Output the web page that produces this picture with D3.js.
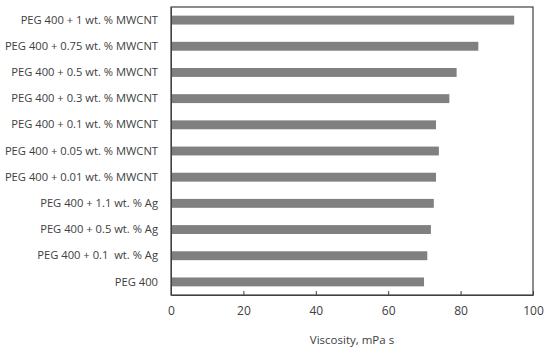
<!DOCTYPE html>
<html><head><meta charset="utf-8">
<script src="https://cdn.jsdelivr.net/npm/d3@7"></script>
<style>body{margin:0;background:#fff}svg{display:block;overflow:visible}</style>
</head><body>
<svg id="c" width="550" height="350" viewBox="0 0 550 350"></svg>
<script>
const categories = [
  "PEG 400 + 1 wt. % MWCNT",
  "PEG 400 + 0.75 wt. % MWCNT",
  "PEG 400 + 0.5 wt. % MWCNT",
  "PEG 400 + 0.3 wt. % MWCNT",
  "PEG 400 + 0.1 wt. % MWCNT",
  "PEG 400 + 0.05 wt. % MWCNT",
  "PEG 400 + 0.01 wt. % MWCNT",
  "PEG 400 + 1.1 wt. % Ag",
  "PEG 400 + 0.5 wt. % Ag",
  "PEG 400 + 0.1  wt. % Ag",
  "PEG 400"
];
const viscosity = [94.8, 84.9, 78.9, 76.9, 73.2, 74.0, 73.2, 72.6, 71.8, 70.8, 69.9];
const xTicks = [0, 20, 40, 60, 80, 100];
const xTitle = "Viscosity, mPa s";

const svg = d3.select("#c");
const m = {left: 171, right: 17, top: 7, bottom: 55};
const W = 550, H = 350;
const x = d3.scaleLinear().domain([0, 100]).range([m.left, W - m.right]);
const y = d3.scaleBand().domain(categories).range([m.top, H - m.bottom]).paddingInner(0.66).paddingOuter(0.33);
const font = "'Open Sans', sans-serif";

svg.append("rect").attr("width", W).attr("height", H).attr("fill", "#fff");

svg.append("g").selectAll("rect").data(categories).join("rect")
  .attr("x", x(0)).attr("y", d => y(d))
  .attr("width", (d, i) => x(viscosity[i]) - x(0))
  .attr("height", y.bandwidth())
  .attr("fill", "#808080");

svg.append("rect").attr("x", x(0)).attr("y", m.top)
  .attr("width", x(100) - x(0)).attr("height", H - m.bottom - m.top)
  .attr("fill", "none").attr("stroke", "#404040").attr("stroke-width", 1.2);

const xa = svg.append("g").attr("transform", `translate(0,${H - m.bottom})`)
  .call(d3.axisBottom(x).tickValues(xTicks).tickSizeInner(-4).tickSizeOuter(0).tickPadding(11));
xa.select(".domain").attr("stroke", "#404040");
xa.selectAll(".tick line").attr("stroke", "#404040");
xa.selectAll("text").attr("font-family", font).attr("font-size", 12).attr("fill", "#404040");

const ya = svg.append("g").attr("transform", `translate(${m.left},0)`)
  .call(d3.axisLeft(y).tickSize(0).tickPadding(13));
ya.select(".domain").attr("stroke", "#404040");
ya.selectAll("text").attr("font-family", font).attr("font-size", 11.2).attr("fill", "#404040")
  .style("white-space", "pre");

svg.append("text").attr("x", (x(0) + x(100)) / 2).attr("y", 344)
  .attr("text-anchor", "middle").attr("font-family", font).attr("font-size", 11.5)
  .attr("fill", "#404040").text(xTitle);
</script>
</body></html>
